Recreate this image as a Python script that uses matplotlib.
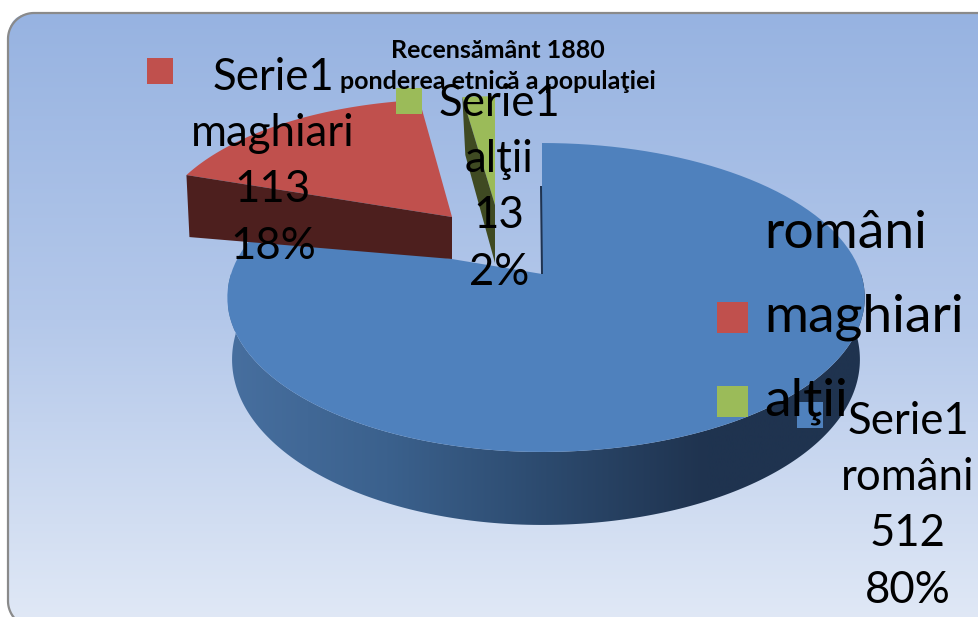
import numpy as np
from matplotlib import pyplot as plt
from matplotlib.colors import LinearSegmentedColormap
from matplotlib.patches import FancyBboxPatch, Polygon, Rectangle

plt.rcParams['font.family'] = ['Lato', 'Noto Sans', 'DejaVu Sans']

title = 'Recensământ 1880\nponderea etnică a populaţiei'
series_name = 'Serie1'
categories = ['români', 'maghiari', 'alţii']
values = [512, 113, 13]
colors = ['#4f81bd', '#c0504d', '#9bbb59']
wall_colors = ['#1f3350', '#4d1f1e', '#3f4a22']

# where each slice sits: apex x, apex y, x scale, y scale, depth at apex, depth at rim
apex = [(542, 274, 1.0, 1.0, 70, 70), (452, 217, 0.947, 0.9, 42, 62), (495, 205, 0.947, 0.83, 58, 58)]
label_pos = [(908, 421), (273, 77), (499, 103)]
key_pos = [(797, 402), (147, 58), (396, 88)]
legend_y = [218, 302, 386]

RX_LEFT, RX_RIGHT, C, A, B = 311, 319, -0.152, 109.25, 274


def ring(deg):
    # clockwise degrees from the top of the pie, through the same perspective as the blue slice
    a = np.radians(deg)
    u, v = np.sin(a), -np.cos(a)
    w = 1 + C * v
    return np.where(u < 0, RX_LEFT, RX_RIGHT) * u / w, (A * v + B) / w - B


def ring_depth(deg):
    return 60 + 13 * -np.cos(np.radians(deg))


fig = plt.figure(figsize=(9.79, 6.17), dpi=100, facecolor='white')
ax = fig.add_axes([0, 0, 1, 1])
ax.axis('off')

# background panel, running off the right and bottom of the picture
bg = LinearSegmentedColormap.from_list('bg', ['#97b3e1', '#b4c8ea', '#e1e9f6'])
panel = FancyBboxPatch((8, 13), 990, 614, boxstyle='round,pad=0,rounding_size=26',
                       fc='none', ec='none', zorder=3)
ax.add_patch(panel)
im = ax.imshow(np.linspace(0, 1, 256)[:, None], cmap=bg, extent=(0, 979, 627, 13), aspect='auto', zorder=1)
im.set_clip_path(panel)
t = np.linspace(0, np.pi / 2, 30)
border_x = np.r_[979, 34 - 26 * np.sin(t), 8 * np.ones(2), 34 - 26 * np.cos(t)]
border_y = np.r_[13, 39 - 26 * np.cos(t), 39, 601, 601 + 26 * np.sin(t)]
ax.plot(border_x, border_y, color='#8a8a8a', lw=1.6, zorder=3)

total = sum(values)
angles = np.cumsum([0] + values) / total * 360

# outer wall of the big slice, shaded left to right
deg = np.linspace(90, 270, 200)
xr, yr = ring(deg)
top_pts = np.column_stack([apex[0][0] + xr, apex[0][1] + yr])
low_pts = np.column_stack([apex[0][0] + xr * 0.985, apex[0][1] + yr + ring_depth(deg)])
wall = Polygon(np.vstack([top_pts, low_pts[::-1]]), closed=True, transform=ax.transData)
shade = LinearSegmentedColormap.from_list('wall', ['#476f9f', '#3b618d', '#2c4a6e', '#1f334f', '#1f334f'])
im2 = ax.imshow(np.linspace(0, 1, 256)[None, :], cmap=shade, extent=(228, 865, 540, 140), aspect='auto', zorder=4)
im2.set_clip_path(wall)

for i in range(len(values)):
    x0, y0, sx, sy, d0, d1 = apex[i]
    deg = np.linspace(angles[i], angles[i + 1], 120)
    xr, yr = ring(deg)
    px, py = x0 + xr * sx, y0 + yr * sy
    z = 5 + i
    ax.add_patch(Polygon(np.column_stack([np.r_[x0, px], np.r_[y0, py]]), closed=True,
                         fc=colors[i], ec='none', zorder=z))
    if i == 0:
        # thin dark cut along the vertical edge
        ax.add_patch(Polygon([(x0 - 2, y0 - 88), (x0, y0 - 88), (x0 + 1, y0), (x0 - 1, y0)],
                             closed=True, fc=wall_colors[i], ec='none', zorder=z))
    else:
        ax.add_patch(Polygon([(x0, y0), (px[0], py[0]), (px[0] + 3, py[0] + d1), (x0, y0 + d0)],
                             closed=True, fc=wall_colors[i], ec='none', zorder=z))

for i, cat in enumerate(categories):
    pct = round(values[i] / total * 100)
    lx, ly = label_pos[i]
    for k, line in enumerate([series_name, cat, str(values[i]), f'{pct}%']):
        ax.text(lx, ly + k * 56.5, line, fontsize=31.5, ha='center', va='center', color='black', zorder=12)
    ax.add_patch(Rectangle(key_pos[i], 26, 26, fc=colors[i], ec='none', zorder=11))
    ax.add_patch(Rectangle((717, legend_y[i]), 31, 31, fc=colors[i], ec='none', zorder=10))
    ax.text(764, legend_y[i] + 15, cat, fontsize=38.5, ha='left', va='center', color='black', zorder=12)

ax.text(498, 66, title, fontsize=18, fontweight='bold', ha='center', va='center',
        linespacing=1.4, color='black', zorder=13)

ax.set_xlim(0, 979)
ax.set_ylim(617, 0)
fig.savefig('out.png', dpi=100)
